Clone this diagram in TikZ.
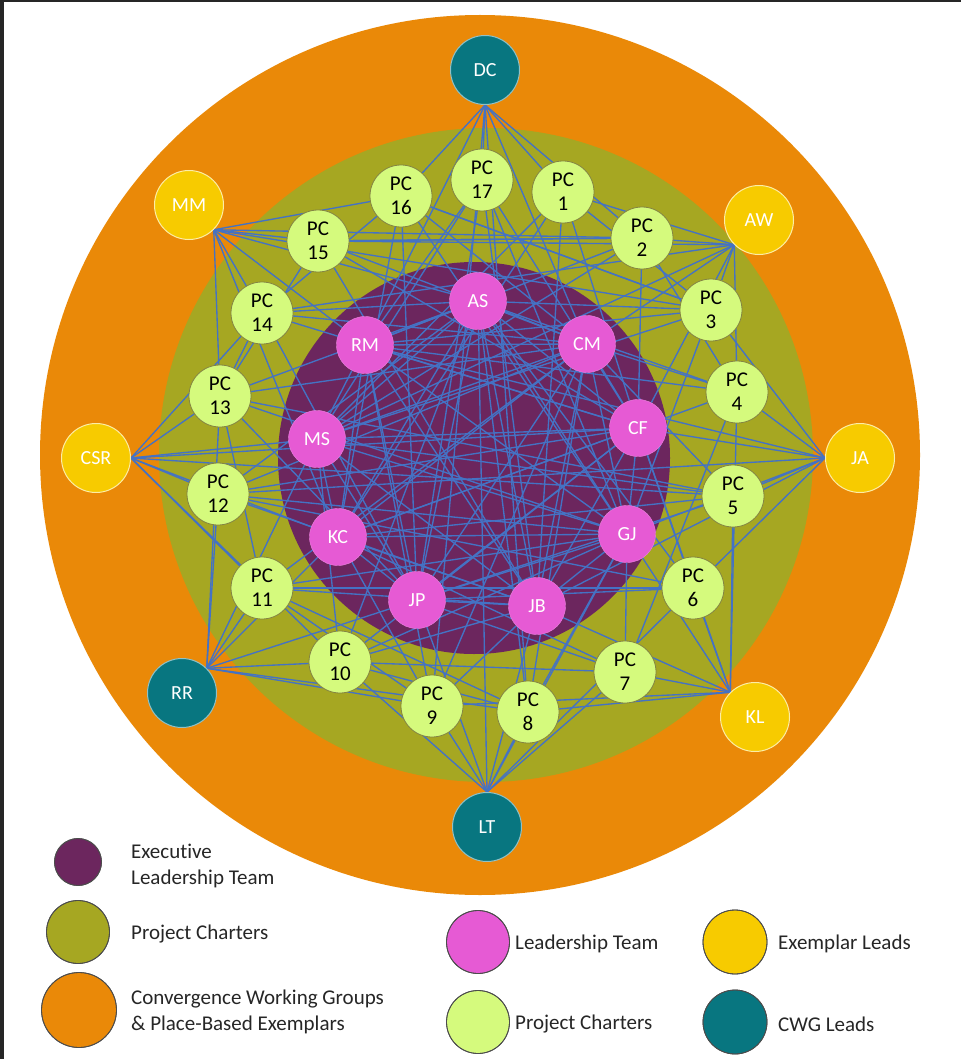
\documentclass[tikz,border=0pt]{standalone}
\usepackage{fontspec}
\setmainfont{Carlito}[RawFeature={-liga}]
\usepackage{xcolor}
\usepackage{tikz}
\definecolor{orangering}{RGB}{234,137,8}
\definecolor{olivering}{RGB}{166,167,34}
\definecolor{execpurple}{RGB}{108,38,94}
\definecolor{ltpink}{RGB}{230,90,212}
\definecolor{pcgreen}{RGB}{213,250,125}
\definecolor{exyellow}{RGB}{247,203,0}
\definecolor{cwgteal}{RGB}{8,118,128}
\definecolor{linkblue}{RGB}{68,114,196}
\pgfdeclarelayer{back}
\pgfdeclarelayer{bg}
\pgfsetlayers{back,bg,main}

\begin{document}
\begin{tikzpicture}[x=1pt, y=-1pt,
	lead/.style={circle,minimum size=69pt,inner sep=0pt,line width=1pt,text=white,font=\fontsize{20}{24}\selectfont},
	exemplar/.style={lead,fill=exyellow,draw=exyellow!35!white},
	cwg/.style={lead,fill=cwgteal,draw=cwgteal!45!white},
	member/.style={circle,minimum size=57pt,inner sep=0pt,fill=ltpink,draw=ltpink!75!white,text=white,font=\fontsize{20}{24}\selectfont},
	charter/.style={circle,minimum size=62pt,inner sep=0pt,fill=pcgreen,draw=olivering!60!black!80,line width=0.8pt,align=center,font=\fontsize{21}{24}\selectfont},
	link/.style={linkblue,line width=1.35pt},
	key/.style={draw=black!70,line width=0.8pt},
	keytext/.style={anchor=west,align=left,inner sep=0pt,text=black!85,font=\fontsize{21}{26}\selectfont}]
				\useasboundingbox (0,0) rectangle (961,1059);

				\begin{pgfonlayer}{back}
				\fill[white] (0,0) rectangle (961,1059);
				\fill[black!85] (0,0) rectangle (4,1059);
				\fill[black!85] (0,0) rectangle (961,2);
				\fill[orangering] (480,455) circle (440);
				\fill[olivering] (486,455) circle (327);
				\fill[execpurple] (474,458) circle (196);
				\end{pgfonlayer}

				% leads
				\node[cwg] (DC) at (485,70) {DC};
				\node[exemplar] (MM) at (189,205) {MM};
				\node[exemplar] (AW) at (759,220) {AW};
				\node[exemplar] (CSR) at (96,458) {CSR};
				\node[exemplar] (JA) at (860,458) {JA};
				\node[cwg] (RR) at (182,693) {RR};
				\node[exemplar] (KL) at (755,717) {KL};
				\node[cwg] (LT) at (487,827) {LT};

				% project charters
				\foreach \n/\x/\y in {1/563/192, 2/642/238, 3/711/310, 4/737/392, 5/733/496, 6/693/588,
					7/625/672, 8/528/712, 9/432/706, 10/340/662, 11/262/588, 12/218/494,
					13/220/396, 14/262/313, 15/318/241, 16/401/196, 17/482/180}
					\node[charter] (p\n) at (\x,\y) {PC\\\n};

				% leadership team
				\foreach \m/\x/\y in {AS/478/301, RM/365/345, CM/587/344, MS/317/439, CF/638/428,
					KC/338/537, GJ/627/534, JP/417/600, JB/537/606}
					\node[member] (\m) at (\x,\y) {\m};

				\begin{pgfonlayer}{bg}
				\foreach \a/\others in {
					DC.south/{p16,p17,p1,p2,p9,p8,RM,CM},
					MM.south east/{p15,p16,p14,p13,p2,p3,AS,RM,KC},
					AW.south west/{p1,p2,p3,p4,p15,p14,CM,MS,CF},
					JA.west/{p4,p5,p6,p12,p3,RM,CF,GJ,JB},
					CSR.east/{p13,p12,p11,p10,p14,MS,p5,CF,KC},
					RR.north east/{p11,p12,p10,p9,p13,JP,KC,p8,MS},
					KL.north west/{p7,p6,p5,p8,GJ,JB,CF,p9,p4},
					LT.north/{p9,p8,p7,p10,p6,JB,JP,GJ,AS},
					p1/{JB,CF,p3,KC,MS}, p2/{MS,CF,p4,RM,p15}, p3/{AS,MS,GJ,p16,RM},
					p4/{CM,RM,AS,p7,KC}, p5/{MS,CM,KC,p13,JP}, p6/{CF,JP,p12,p11,AS},
					p7/{GJ,KC,JP,p10}, p8/{AS,CM,GJ,p10,p11}, p9/{JB,RM,KC,p11,CM},
					p10/{JB,MS,CF,GJ,AS}, p11/{CM,JB,GJ,p13}, p12/{CF,GJ,CM,AS,JB},
					p13/{AS,CM,JP,p15,p14,GJ}, p14/{AS,CM,CF,JP,p16}, p15/{CM,CF,p2,JB},
					p16/{JP,KC,GJ,p3,CM}, p17/{JP,JB,GJ,MS,RM,CF},
					AS/{RM,CM,MS,CF,KC,GJ,JP,JB}, RM/{CM,MS,CF,KC,GJ,JP,JB},
					CM/{MS,CF,KC,GJ,JP,JB}, MS/{CF,KC,GJ,JP,JB}, CF/{KC,GJ,JP,JB},
					KC/{GJ,JP,JB}, GJ/{JP,JB}, JP/{JB}}
					\foreach \b in \others
						\draw[link] (\a) -- (\b);
				\end{pgfonlayer}

				% legend
				\fill[key,fill=execpurple] (78,862) circle (23.5);
				\fill[key,fill=olivering] (78,932) circle (31.5);
				\fill[key,fill=orangering] (79,1010) circle (37.5);
				\fill[key,fill=ltpink] (478,942) circle (31.5);
				\fill[key,fill=pcgreen] (478,1022) circle (31.5);
				\fill[key,fill=exyellow] (735,942) circle (32);
				\fill[key,fill=cwgteal] (735,1022) circle (32);
				\draw[key] (78,862) circle (23.5) (78,932) circle (31.5) (79,1010) circle (37.5)
					(478,942) circle (31.5) (478,1022) circle (31.5) (735,942) circle (32) (735,1022) circle (32);

				\node[keytext] (kExec) at (131,866) {Executive\\Leadership Team};
				\node[keytext] (kPCring) at (131,934) {Project Charters};
				\node[keytext] (kCWGring) at (131,1012) {Convergence Working Groups\\\& Place-Based Exemplars};
				\node[keytext] (kLT) at (515,944) {Leadership Team};
				\node[keytext] (kPC) at (515,1024) {Project Charters};
				\node[keytext] (kEx) at (778,944) {Exemplar Leads};
				\node[keytext] (kCWG) at (778,1024) {CWG Leads};

			\end{tikzpicture}
\end{document}
